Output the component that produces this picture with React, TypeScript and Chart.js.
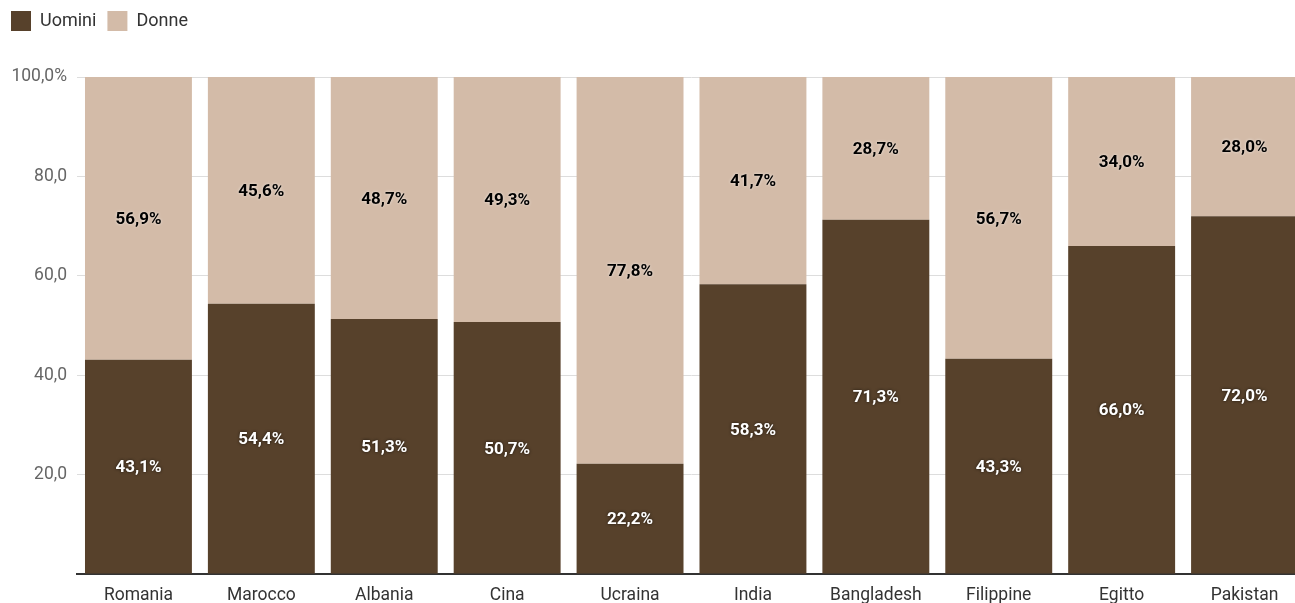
import React, { useEffect, useRef } from "react";
import { Chart, registerables } from "chart.js";

Chart.register(...registerables);

const categories = ["Romania", "Marocco", "Albania", "Cina", "Ucraina", "India", "Bangladesh", "Filippine", "Egitto", "Pakistan"];
const uomini = [43.1, 54.4, 51.3, 50.7, 22.2, 58.3, 71.3, 43.3, 66.0, 72.0];
const donne = [56.9, 45.6, 48.7, 49.3, 77.8, 41.7, 28.7, 56.7, 34.0, 28.0];
const seriesNames = ["Uomini", "Donne"];
const yTicks = [0, 20, 40, 60, 80, 100];

const DARK = "#57412b";
const TAN = "#d3bba8";

const fmt = (v: number) => v.toFixed(1).replace(".", ",");

const labelPlugin = {
  id: "segLabels",
  afterDatasetsDraw(chart: any) {
    const ctx = chart.ctx;
    chart.data.datasets.forEach((ds: any, di: number) => {
      const meta = chart.getDatasetMeta(di);
      meta.data.forEach((el: any, i: number) => {
        const v = ds.data[i];
        const y = (el.y + el.base) / 2 + 1.5;
        ctx.save();
        ctx.font = "bold 17px Roboto";
        ctx.textAlign = "center";
        ctx.textBaseline = "middle";
        if (di === 0) {
          ctx.fillStyle = "#ffffff";
          ctx.shadowColor = "rgba(0,0,0,0.7)";
        } else {
          ctx.fillStyle = "#000000";
          ctx.shadowColor = "rgba(255,255,255,0.7)";
        }
        ctx.shadowBlur = 3;
        ctx.fillText(fmt(v) + "%", el.x, y);
        ctx.restore();
      });
    });
  },
};

const legendFitPlugin = {
  id: "legendFit",
  beforeInit(chart: any) {
    const legend = chart.legend;
    if (!legend) return;
    const orig = legend.fit;
    legend.fit = function () {
      orig.call(this);
      this.height = 77;
    };
  },
};

export default function App() {
  const ref = useRef<HTMLCanvasElement | null>(null);
  useEffect(() => {
    if (!ref.current) return;
    Chart.defaults.font.family = "Roboto";
    const chart = new Chart(ref.current, {
      type: "bar",
      data: {
        labels: categories,
        datasets: [
          { label: seriesNames[0], data: uomini, backgroundColor: DARK, categoryPercentage: 1, barPercentage: 0.87 },
          { label: seriesNames[1], data: donne, backgroundColor: TAN, categoryPercentage: 1, barPercentage: 0.87 },
        ],
      },
      options: {
        responsive: false,
        animation: false,
        devicePixelRatio: 1,
        layout: { padding: { left: 0, right: 0, top: 0, bottom: 0 } },
        plugins: {
          legend: {
            display: true,
            position: "top",
            align: "start",
            labels: {
              boxWidth: 20,
              boxHeight: 20,
              padding: 11,
              color: "#333333",
              font: { size: 18, family: "Roboto" },
            },
          },
          tooltip: { enabled: false },
        },
        scales: {
          x: {
            stacked: true,
            grid: { display: false },
            border: { display: true, color: "#333333", width: 2 },
            afterFit(scale: any) {
              scale.height = 29;
            },
            ticks: { color: "#333333", font: { size: 17.5, family: "Roboto" }, padding: 3, maxRotation: 0 },
          },
          y: {
            stacked: true,
            min: 0,
            max: 100,
            afterBuildTicks(scale: any) {
              scale.ticks = yTicks.map((v) => ({ value: v }));
            },
            afterFit(scale: any) {
              scale.width = 77;
            },
            grid: { color: "#dddddd", drawTicks: false },
            border: { display: false },
            ticks: {
              color: "#666666",
              font: { size: 17.5, family: "Roboto" },
              padding: 10,
              callback: (v: any) => (v === 0 ? "" : v === 100 ? fmt(v) + "%" : fmt(v)),
            },
          },
        },
      },
      plugins: [labelPlugin, legendFitPlugin],
    });
    return () => chart.destroy();
  }, []);
  return (
    <div style={{ position: "fixed", left: 0, top: 0, width: 1295, height: 603, overflow: "hidden", background: "#fff" }}>
      <canvas ref={ref} width={1306} height={603} style={{ width: 1306, height: 603, display: "block" }} />
    </div>
  );
}
